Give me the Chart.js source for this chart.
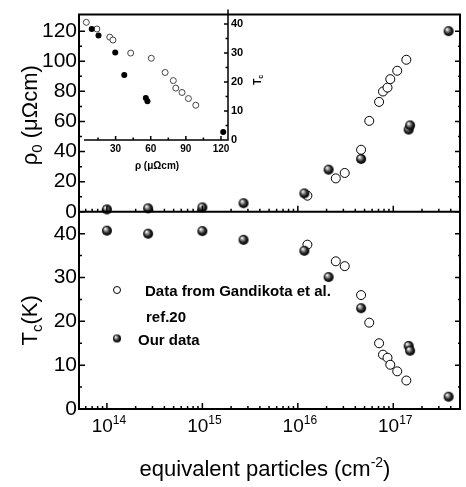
<!DOCTYPE html>
<html>
<head>
<meta charset="utf-8">
<script src="https://cdn.jsdelivr.net/npm/chart.js@4.4.0/dist/chart.umd.min.js"></script>
<style>
html, body { margin: 0; padding: 0; background: #fff; }
#wrap { position: relative; width: 466px; height: 487px; }
#main { position: absolute; left: 0; top: 0; }
#inset { position: absolute; left: 79px; top: 0; }
</style>
</head>
<body>
<div id="wrap">
  <canvas id="main" width="466" height="487"></canvas>
  <canvas id="inset" width="200" height="190"></canvas>
</div>
<script>
// our data (spheres)
var oursFluence = [1e14, 2.7e14, 1e15, 2.7e15, 1.17e16, 2.1e16, 4.6e16, 1.45e17, 1.5e17, 3.8e17];
var oursRho = [1.6, 2.3, 2.9, 5.7, 12.2, 28, 35.1, 54.6, 57.4, 120];
var oursTc = [40.7, 40.0, 40.6, 38.6, 36.1, 30.1, 23.0, 14.4, 13.3, 2.8];

// Gandikota et al., ref.20 (open circles)
var refFluence = [1.26e16, 2.5e16, 3.1e16, 4.6e16, 5.6e16, 7.1e16, 7.8e16, 8.7e16, 9.3e16, 1.1e17, 1.37e17];
var refRho = [10.7, 22.2, 25.8, 41.2, 60.4, 73, 79.9, 82.5, 88.1, 93.7, 101];
var refTc = [37.5, 33.7, 32.6, 26.0, 19.7, 15.0, 12.4, 11.7, 10.1, 8.6, 6.5];

// inset: Tc vs rho
var insetOursRho = [9.6, 15.4, 29.7, 37.4, 55.8, 57.2, 121.9];
var insetOursTc = [38.3, 36.1, 30.2, 22.4, 14.5, 13.4, 2.8];
var insetRefRho = [5.0, 14.0, 25.0, 27.7, 42.9, 60.5, 72.3, 79.3, 81.4, 86.7, 92.2, 98.5];
var insetRefTc = [40.6, 38.3, 35.5, 34.5, 30.0, 28.2, 23.3, 20.5, 17.9, 16.4, 14.3, 12.0];

// tick labels
var decades = [14, 15, 16, 17];
var rhoTicks = [0, 20, 40, 60, 80, 100, 120];
var tcTicks = [0, 10, 20, 30, 40];
var insetRhoTicks = [30, 60, 90, 120];
var insetTcTicks = [0, 10, 20, 30, 40];

var fam = "'Liberation Sans', Arial, Helvetica, sans-serif";
Chart.defaults.font.family = fam;
Chart.defaults.color = '#000';

function pairs(xs, ys) {
    return xs.map(function (x, i) { return { x: x, y: ys[i] }; });
}

function setTicks(list) {
    return function (s) {
        s.ticks = list.map(function (v) { return { value: v }; });
    };
}

function makeBall(r) {
    var c = document.createElement('canvas');
    c.width = c.height = 2 * r + 2;
    var g = c.getContext('2d');
    var cx = r + 1, cy = r + 1;
    var grad = g.createRadialGradient(cx - r * 0.35, cy - r * 0.4, r * 0.1, cx, cy, r);
    grad.addColorStop(0, '#f2f2f2');
    grad.addColorStop(0.3, '#8a8a8a');
    grad.addColorStop(0.65, '#1e1e1e');
    grad.addColorStop(1, '#000');
    g.fillStyle = grad;
    g.beginPath();
    g.arc(cx, cy, r, 0, 2 * Math.PI);
    g.fill();
    return c;
}
var ballBig = makeBall(5);
var ballSmall = makeBall(4);

// draws text pieces: [text, size, dy] along the current x axis, centred on 0
function drawPieces(ctx, pieces, weight) {
    var total = 0;
    pieces.forEach(function (p) {
        ctx.font = weight + p[1] + 'px ' + fam;
        p.w = ctx.measureText(p[0]).width;
        total += p.w;
    });
    var x = -total / 2;
    pieces.forEach(function (p) {
        ctx.font = weight + p[1] + 'px ' + fam;
        ctx.fillText(p[0], x, p[2]);
        x += p.w;
    });
}

var mainDecor = {
    id: 'mainDecor',
    afterDraw: function (chart) {
        var ctx = chart.ctx;
        var xs = chart.scales.x, yr = chart.scales.yRho, yt = chart.scales.yTc;
        var L = xs.left, R = xs.right, T = yr.top, M = yr.bottom, B = yt.bottom;
        ctx.save();
        ctx.strokeStyle = '#000';
        ctx.lineWidth = 2;
        ctx.beginPath();
        ctx.moveTo(L, T); ctx.lineTo(R, T); ctx.lineTo(R, B); ctx.lineTo(L, B); ctx.closePath();
        ctx.moveTo(L, M); ctx.lineTo(R, M);
        ctx.stroke();

        ctx.lineWidth = 1.5;
        ctx.beginPath();
        function yTicks(scale, step, major) {
            for (var v = scale.min; v <= scale.max; v += step) {
                var p = scale.getPixelForValue(v);
                if (p < scale.top + 3) continue;
                var len = (v % major === 0) ? 6 : 3;
                ctx.moveTo(L, p); ctx.lineTo(L + len, p);
                ctx.moveTo(R, p); ctx.lineTo(R - len + 1, p);
            }
        }
        yTicks(yr, 10, 20);
        yTicks(yt, 5, 10);
        for (var d = 13; d <= 17; d++) {
            for (var m = 1; m <= 9; m++) {
                var v = m * Math.pow(10, d);
                if (v < xs.min || v > xs.max) continue;
                var p = xs.getPixelForValue(v);
                var len = m === 1 ? 6 : 3;
                ctx.moveTo(p, M); ctx.lineTo(p, M - len);
                ctx.moveTo(p, B); ctx.lineTo(p, B - len);
            }
        }
        ctx.stroke();

        ctx.fillStyle = '#000';
        ctx.textBaseline = 'alphabetic';
        ctx.textAlign = 'left';
        // x tick labels 10^n
        decades.forEach(function (d) {
            var p = xs.getPixelForValue(Math.pow(10, d));
            ctx.font = '19px ' + fam;
            var w1 = ctx.measureText('10').width;
            ctx.font = '12px ' + fam;
            var w2 = ctx.measureText(String(d)).width;
            var x0 = p + 2 - (w1 + w2) / 2;
            ctx.font = '19px ' + fam;
            ctx.fillText('10', x0, B + 23);
            ctx.font = '12px ' + fam;
            ctx.fillText(String(d), x0 + w1, B + 15);
        });

        // x title
        ctx.save();
        ctx.translate(265, B + 67);
        drawPieces(ctx, [['equivalent particles (cm', 22, 0], ['-2', 14, -9], [')', 22, 0]], '');
        ctx.restore();

        // y titles
        ctx.save();
        ctx.translate(29, (T + M) / 2 + 2);
        ctx.rotate(-Math.PI / 2);
        drawPieces(ctx, [['\u03c1', 22, 8], ['0', 15, 13], [' (\u03bc\u03a9cm)', 22, 8]], '');
        ctx.restore();

        ctx.save();
        ctx.translate(29, (M + B) / 2 + 10);
        ctx.rotate(-Math.PI / 2);
        drawPieces(ctx, [['T', 22, 8], ['c', 15, 13], ['(K)', 22, 8]], '');
        ctx.restore();

        // legend
        ctx.lineWidth = 1;
        ctx.beginPath();
        ctx.arc(117, 290, 3.5, 0, 2 * Math.PI);
        ctx.fillStyle = '#fff';
        ctx.fill();
        ctx.stroke();
        ctx.drawImage(ballSmall, 117 - ballSmall.width / 2, 338.5 - ballSmall.height / 2);
        ctx.fillStyle = '#000';
        ctx.font = 'bold 15px ' + fam;
        ctx.fillText('Data from Gandikota et al.', 145, 296);
        ctx.fillText('ref.20', 146, 322);
        ctx.fillText('Our data', 138, 345);
        ctx.restore();
    }
};

new Chart(document.getElementById('main'), {
    type: 'scatter',
    data: {
        datasets: [{
            label: 'Our data',
            data: pairs(oursFluence, oursRho),
            yAxisID: 'yRho',
            pointStyle: ballBig,
            pointRadius: 5
        }, {
            label: 'Our data',
            data: pairs(oursFluence, oursTc),
            yAxisID: 'yTc',
            pointStyle: ballBig,
            pointRadius: 5
        }, {
            label: 'Data from Gandikota et al. ref.20',
            data: pairs(refFluence, refRho),
            yAxisID: 'yRho',
            pointRadius: 4.5,
            pointBackgroundColor: '#fff',
            pointBorderColor: '#000',
            pointBorderWidth: 1
        }, {
            label: 'Data from Gandikota et al. ref.20',
            data: pairs(refFluence, refTc),
            yAxisID: 'yTc',
            pointRadius: 4.5,
            pointBackgroundColor: '#fff',
            pointBorderColor: '#000',
            pointBorderWidth: 1
        }]
    },
    options: {
        responsive: false,
        animation: false,
        events: [],
        clip: false,
        layout: { padding: { left: 0, top: 6, right: 3, bottom: 0 } },
        plugins: {
            legend: { display: false },
            tooltip: { enabled: false }
        },
        scales: {
            x: {
                type: 'logarithmic',
                min: 5.1e13,
                max: 5.0e17,
                afterFit: function (s) { s.height = 78; },
                ticks: { display: false },
                grid: { display: false, drawTicks: false },
                border: { display: false }
            },
            // the first stacked axis goes to the bottom
            yTc: {
                type: 'linear',
                position: 'left',
                stack: 'panels',
                stackWeight: 1,
                min: 0,
                max: 45,
                afterFit: function (s) { s.width = 79; },
                afterBuildTicks: setTicks(tcTicks),
                ticks: { autoSkip: false, padding: 2, font: { size: 21 } },
                grid: { display: false, drawTicks: false },
                border: { display: false }
            },
            yRho: {
                type: 'linear',
                position: 'left',
                stack: 'panels',
                stackWeight: 1,
                min: 0,
                max: 131,
                afterFit: function (s) { s.width = 79; },
                afterBuildTicks: setTicks(rhoTicks),
                ticks: { autoSkip: false, padding: 2, font: { size: 21 } },
                grid: { display: false, drawTicks: false },
                border: { display: false }
            }
        }
    },
    plugins: [mainDecor]
});

var insetDecor = {
    id: 'insetDecor',
    afterDraw: function (chart) {
        var ctx = chart.ctx;
        var xs = chart.scales.x, ys = chart.scales.y;
        var R = xs.right, B = ys.bottom;
        ctx.save();
        ctx.strokeStyle = '#000';
        ctx.lineWidth = 1.5;
        ctx.beginPath();
        ctx.moveTo(xs.left, B); ctx.lineTo(R, B); ctx.lineTo(R, ys.top);
        for (var v = 15; v <= 120; v += 15) {
            var p = xs.getPixelForValue(v);
            ctx.moveTo(p, B); ctx.lineTo(p, B - (v % 30 === 0 ? 4 : 2.5));
        }
        for (var t = 0; t <= 40; t += 5) {
            var q = ys.getPixelForValue(t);
            ctx.moveTo(R, q); ctx.lineTo(R - (t % 10 === 0 ? 4 : 2.5), q);
        }
        ctx.stroke();

        ctx.fillStyle = '#000';
        ctx.textBaseline = 'alphabetic';
        ctx.save();
        ctx.translate((xs.left + R) / 2 + 1, B + 29);
        drawPieces(ctx, [['\u03c1 (\u03bc\u03a9cm)', 10, 0]], 'bold ');
        ctx.restore();
        ctx.save();
        ctx.translate(R + 29, (ys.top + B) / 2 + 5);
        ctx.rotate(-Math.PI / 2);
        drawPieces(ctx, [['T', 10, 4], ['c', 7, 6]], 'bold ');
        ctx.restore();
        ctx.restore();
    }
};

new Chart(document.getElementById('inset'), {
    type: 'scatter',
    data: {
        datasets: [{
            label: 'ours',
            data: pairs(insetOursRho, insetOursTc),
            pointRadius: 3,
            pointBackgroundColor: '#000',
            pointBorderColor: '#000',
            pointBorderWidth: 0
        }, {
            label: 'ref',
            data: pairs(insetRefRho, insetRefTc),
            pointRadius: 3,
            pointBackgroundColor: '#fff',
            pointBorderColor: '#444',
            pointBorderWidth: 1
        }]
    },
    options: {
        responsive: false,
        animation: false,
        events: [],
        clip: false,
        layout: { padding: { left: 0, top: 6, right: 0, bottom: 0 } },
        plugins: {
            legend: { display: false },
            tooltip: { enabled: false }
        },
        scales: {
            x: {
                type: 'linear',
                min: 3,
                max: 126,
                afterFit: function (s) { s.height = 50; },
                afterBuildTicks: setTicks(insetRhoTicks),
                ticks: { autoSkip: false, padding: 3, font: { size: 10, weight: 'bold' } },
                grid: { display: false, drawTicks: false },
                border: { display: false }
            },
            y: {
                type: 'linear',
                position: 'right',
                min: 0,
                max: 45,
                afterFit: function (s) { s.width = 51; },
                afterBuildTicks: setTicks(insetTcTicks),
                ticks: { autoSkip: false, padding: 3, font: { size: 11, weight: 'bold' } },
                grid: { display: false, drawTicks: false },
                border: { display: false }
            }
        }
    },
    plugins: [insetDecor]
});
</script>
</body>
</html>
